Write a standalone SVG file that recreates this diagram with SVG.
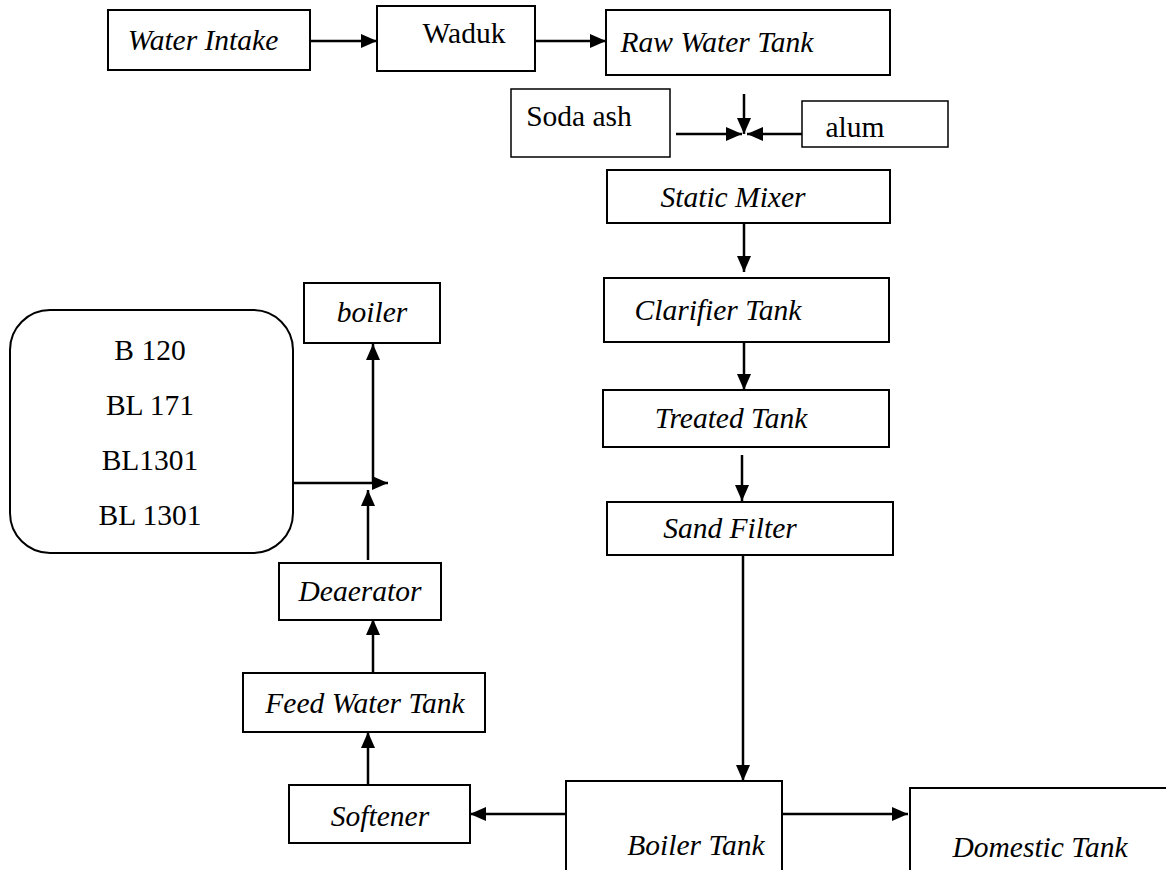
<svg xmlns="http://www.w3.org/2000/svg" width="1166" height="870" viewBox="0 0 1166 870">
<defs>
<marker id="ah" markerUnits="userSpaceOnUse" markerWidth="16" markerHeight="14" refX="16" refY="7" orient="auto">
<path d="M0,0 L16,7 L0,14 Z" fill="#000"/>
</marker>
<style>
.box{fill:#fff;stroke:#000;stroke-width:2}
.t{font-family:'Liberation Serif','Times New Roman',serif;font-size:29.5px;fill:#000;text-anchor:middle}
.i{font-style:italic}
.c line{stroke:#000;stroke-width:2.5;fill:none}
</style>
</defs>
<rect width="1166" height="870" fill="#fff"/>
<g class="c" id="connectors">
<line x1="310" y1="41" x2="377" y2="41" marker-end="url(#ah)"/>
<line x1="535" y1="41" x2="606" y2="41" marker-end="url(#ah)"/>
<line x1="744" y1="94" x2="744" y2="134" marker-end="url(#ah)"/>
<line x1="676" y1="134" x2="742" y2="134" marker-end="url(#ah)"/>
<line x1="802" y1="134" x2="747" y2="134" marker-end="url(#ah)"/>
<line x1="744" y1="223" x2="744" y2="272" marker-end="url(#ah)"/>
<line x1="744" y1="343" x2="744" y2="390" marker-end="url(#ah)"/>
<line x1="742" y1="455" x2="742" y2="501" marker-end="url(#ah)"/>
<line x1="743" y1="555" x2="743" y2="781" marker-end="url(#ah)"/>
<line x1="566" y1="814" x2="470" y2="814" marker-end="url(#ah)"/>
<line x1="782" y1="814" x2="908" y2="814" marker-end="url(#ah)"/>
<line x1="368" y1="785" x2="368" y2="732" marker-end="url(#ah)"/>
<line x1="373" y1="673" x2="373" y2="619" marker-end="url(#ah)"/>
<line x1="368" y1="560" x2="368" y2="490" marker-end="url(#ah)"/>
<line x1="287" y1="483" x2="388" y2="483" marker-end="url(#ah)"/>
<line x1="373" y1="483" x2="373" y2="344" marker-end="url(#ah)"/>
</g>
<g id="water-intake"><rect class="box" x="108" y="10" width="202" height="60"/><text class="t i" x="203" y="50">Water Intake</text></g>
<g id="waduk"><rect class="box" x="377" y="6" width="158" height="65"/><text class="t" x="464" y="43">Waduk</text></g>
<g id="raw-water-tank"><rect class="box" x="606" y="10" width="284" height="65"/><text class="t i" x="717" y="52">Raw Water Tank</text></g>
<g id="soda-ash"><rect class="box" x="511" y="89" width="159" height="68" style="stroke-width:1.5"/><text class="t" x="579" y="126">Soda ash</text></g>
<g id="alum"><rect class="box" x="802" y="101" width="146" height="46" style="stroke-width:1.5"/><text class="t" x="855" y="137">alum</text></g>
<g id="static-mixer"><rect class="box" x="607" y="170" width="283" height="53"/><text class="t i" x="733" y="207">Static Mixer</text></g>
<g id="clarifier-tank"><rect class="box" x="604" y="278" width="285" height="64"/><text class="t i" x="718" y="320">Clarifier Tank</text></g>
<g id="treated-tank"><rect class="box" x="603" y="390" width="286" height="57"/><text class="t i" x="731" y="428">Treated Tank</text></g>
<g id="sand-filter"><rect class="box" x="607" y="502" width="286" height="53"/><text class="t i" x="730" y="538">Sand Filter</text></g>
<g id="boiler-tank"><rect class="box" x="566" y="781" width="216" height="100"/><text class="t i" x="696" y="855">Boiler Tank</text></g>
<g id="domestic-tank"><rect class="box" x="910" y="788" width="270" height="100"/><text class="t i" x="1040" y="857">Domestic Tank</text></g>
<g id="softener"><rect class="box" x="289" y="785" width="181" height="58"/><text class="t i" x="380" y="826">Softener</text></g>
<g id="feed-water-tank"><rect class="box" x="243" y="673" width="242" height="59"/><text class="t i" x="365" y="713">Feed Water Tank</text></g>
<g id="deaerator"><rect class="box" x="279" y="563" width="162" height="57"/><text class="t i" x="360" y="601">Deaerator</text></g>
<g id="boiler"><rect class="box" x="304" y="283" width="136" height="60"/><text class="t i" x="372" y="322">boiler</text></g>
<g id="boiler-list"><rect class="box" x="10" y="310" width="283" height="243" rx="40" ry="40"/>
<text class="t" x="150" y="360">B 120</text>
<text class="t" x="150" y="415">BL 171</text>
<text class="t" x="150" y="470">BL1301</text>
<text class="t" x="150" y="525">BL 1301</text>
</g>
</svg>
